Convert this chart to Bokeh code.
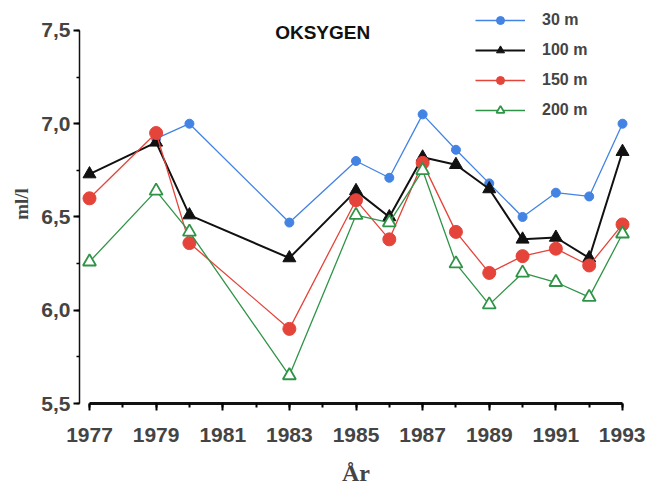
from bokeh.plotting import figure
from bokeh.models import Range1d, FixedTicker, Legend, LegendItem, Label
from bokeh.embed import file_html
from bokeh.resources import INLINE

years_30 = [1979, 1980, 1983, 1985, 1986, 1987, 1988, 1989, 1990, 1991, 1992, 1993]
vals_30 = [6.92, 7.00, 6.47, 6.80, 6.71, 7.05, 6.86, 6.68, 6.50, 6.63, 6.61, 7.00]

years = [1977, 1979, 1980, 1983, 1985, 1986, 1987, 1988, 1989, 1990, 1991, 1992, 1993]
vals_100 = [6.73, 6.90, 6.51, 6.28, 6.64, 6.50, 6.82, 6.78, 6.65, 6.38, 6.39, 6.28, 6.85]
vals_150 = [6.60, 6.95, 6.36, 5.90, 6.59, 6.38, 6.79, 6.42, 6.20, 6.29, 6.33, 6.24, 6.46]
vals_200 = [6.26, 6.64, 6.42, 5.65, 6.51, 6.47, 6.75, 6.25, 6.03, 6.20, 6.15, 6.07, 6.41]

x_ticks = [1977, 1979, 1981, 1983, 1985, 1987, 1989, 1991, 1993]
x_minor = list(range(1977, 1994))
y_ticks = [5.5, 6.0, 6.5, 7.0, 7.5]
y_tick_labels = ["5,5", "6,0", "6,5", "7,0", "7,5"]
y_minor = [5.5, 5.75, 6.0, 6.25, 6.5, 6.75, 7.0, 7.25, 7.5]

FONT = "Liberation Sans"

p = figure(width=645, height=494, output_backend="svg", toolbar_location=None,
           x_range=Range1d(1976.7, 1993.3), y_range=Range1d(5.5, 7.639),
           min_border_left=79, min_border_right=645 - 632, min_border_top=4, min_border_bottom=91)
p.outline_line_color = None
p.xgrid.visible = False
p.ygrid.visible = False
p.background_fill_color = "white"

c_blue = "#4283e4"
c_black = "#111111"
c_red = "#e5443a"
c_green = "#2f9447"

r1l = p.line(years_30, vals_30, line_color=c_blue, line_width=1.3)
r1m = p.scatter(years_30, vals_30, marker="circle", size=9, fill_color=c_blue, line_color=c_blue)
r2l = p.line(years, vals_100, line_color=c_black, line_width=2)
r2m = p.scatter(years, vals_100, marker="triangle", size=13, fill_color=c_black, line_color=c_black)
r3l = p.line(years, vals_150, line_color=c_red, line_width=1.3)
r3m = p.scatter(years, vals_150, marker="circle", size=13, fill_color=c_red, line_color=c_red)
r4l = p.line(years, vals_200, line_color=c_green, line_width=1.3)
r4m = p.scatter(years, vals_200, marker="triangle", size=13, fill_color="white", line_color=c_green, line_width=1.8)

legend = Legend(items=[
    LegendItem(label="30 m", renderers=[r1l, r1m]),
    LegendItem(label="100 m", renderers=[r2l, r2m]),
    LegendItem(label="150 m", renderers=[r3l, r3m]),
    LegendItem(label="200 m", renderers=[r4l, r4m]),
], location=(396, 283), glyph_width=50, glyph_height=20, label_height=20, spacing=10,
    padding=0, margin=0, border_line_color=None, background_fill_alpha=0,
    label_text_font=FONT, label_text_font_style="bold", label_text_font_size="16px",
    label_standoff=17)
p.add_layout(legend, "center")

title = Label(x=1984.0, y=7.49, text="OKSYGEN", text_align="center", text_baseline="middle",
              text_font=FONT, text_font_style="bold", text_font_size="19px", text_color="#111111")
p.add_layout(title)

xa = p.xaxis[0]
xa.ticker = FixedTicker(ticks=x_ticks, minor_ticks=x_minor)
xa.bounds = (1977, 1993)
xa.axis_line_width = 3
xa.axis_line_color = "#111111"
xa.major_tick_out = 7
xa.major_tick_in = 0
xa.minor_tick_out = 4
xa.minor_tick_in = 0
xa.major_tick_line_width = 2
xa.minor_tick_line_width = 2
xa.major_label_text_font = FONT
xa.major_label_text_font_style = "bold"
xa.major_label_text_font_size = "21px"
xa.major_label_standoff = 17
xa.axis_label = "År"
xa.axis_label_text_font = "Liberation Serif"
xa.axis_label_text_font_style = "bold"
xa.axis_label_text_font_size = "24px"
xa.axis_label_standoff = 15

ya = p.yaxis[0]
ya.ticker = FixedTicker(ticks=y_ticks, minor_ticks=y_minor)
ya.bounds = (5.5, 7.5)
ya.major_label_overrides = {t: l for t, l in zip(y_ticks, y_tick_labels)}
ya.axis_line_width = 1.5
ya.axis_line_color = "#111111"
ya.major_tick_out = 6
ya.major_tick_in = 0
ya.minor_tick_out = 3
ya.minor_tick_in = 0
ya.major_tick_line_width = 2
ya.minor_tick_line_width = 1.5
ya.major_label_text_font = FONT
ya.major_label_text_font_style = "bold"
ya.major_label_text_font_size = "21px"
ya.major_label_standoff = 3
ya.axis_label = "ml/l"
ya.axis_label_text_font = "Liberation Serif"
ya.axis_label_text_font_style = "bold"
ya.axis_label_text_font_size = "19px"
ya.axis_label_standoff = 6

open("out.html", "w").write(file_html(p, INLINE))
